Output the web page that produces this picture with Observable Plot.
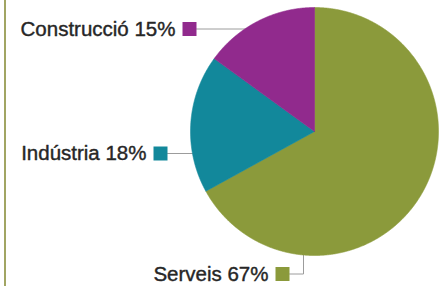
<!DOCTYPE html>
<html><head><meta charset="utf-8">
<script src="https://cdn.jsdelivr.net/npm/d3@7"></script>
<script src="https://cdn.jsdelivr.net/npm/@observablehq/plot@0.6"></script>
<style>html,body{margin:0;padding:0;background:#fff;overflow:hidden}</style>
</head><body><div id="chart"></div>
<script>
// Data
const categories = ["Serveis", "Indústria", "Construcció"];
const shares = [67, 18, 15];
const colors = ["#8b9a3b", "#12889b", "#912a8d"];

// Layout
const W = 446, H = 286, cx = 314, cy = 131, R = 124;
const labelPos = {"Serveis": [282, 273.5], "Indústria": [160, 153], "Construcció": [189, 28.5]};
const elbowX = {"Serveis": 303};

const rows = categories.map((c, i) => ({category: c, share: shares[i]}));
const arcs = d3.pie().sort(null).value(d => d.share)(rows);

const slicePts = arcs.flatMap(p => {
  const c = p.data.category;
  const n = Math.ceil((p.endAngle - p.startAngle) / 0.005);
  const pts = [{category: c, x: cx, y: cy}];
  for (let k = 0; k <= n; k++) {
    const a = p.startAngle + (p.endAngle - p.startAngle) * k / n;
    pts.push({category: c, x: cx + R * Math.sin(a), y: cy - R * Math.cos(a)});
  }
  pts.push({category: c, x: cx, y: cy});
  return pts;
});

const labels = rows.map(d => ({
  category: d.category,
  text: `${d.category} ${d.share}%`,
  sx: labelPos[d.category][0],
  sy: labelPos[d.category][1]
}));

const leaders = labels.flatMap(l => {
  const x0 = l.sx + 7;
  if (elbowX[l.category] !== undefined) {
    const ex = elbowX[l.category];
    const ey = cy + Math.sqrt(R * R - (ex - cx) ** 2);
    return [{category: l.category, x: x0, y: l.sy}, {category: l.category, x: ex, y: l.sy}, {category: l.category, x: ex, y: ey}];
  }
  const ex = cx - Math.sqrt(R * R - (l.sy - cy) ** 2);
  return [{category: l.category, x: x0, y: l.sy}, {category: l.category, x: ex + 1, y: l.sy}];
});

const chart = Plot.plot({
  width: W, height: H,
  margin: 0,
  x: {domain: [0, W], range: [0, W], axis: null},
  y: {domain: [0, H], range: [0, H], axis: null},
  color: {domain: categories, range: colors},
  style: {fontFamily: "'Liberation Sans', Arial, sans-serif", background: "#fff"},
  marks: [
    Plot.ruleX([4.5], {y1: 0, y2: H, stroke: "#8a8f3c", strokeWidth: 1.6}),
    Plot.line(leaders, {x: "x", y: "y", z: "category", stroke: "#9c9c9c", strokeWidth: 1, curve: "linear"}),
    Plot.line(slicePts, {x: "x", y: "y", z: "category", fill: "category", stroke: "category", strokeWidth: 0.6, curve: "linear"}),
    Plot.dot(labels, {x: "sx", y: "sy", symbol: "square", r: 7.9, fill: "category", stroke: null}),
    Plot.text(labels, {x: d => d.sx - 14, y: "sy", text: "text", textAnchor: "end", fontSize: 20.5, fill: "#262626", stroke: "#262626", strokeWidth: 0.4})
  ]
});
document.getElementById("chart").appendChild(chart);
</script>
</body></html>
